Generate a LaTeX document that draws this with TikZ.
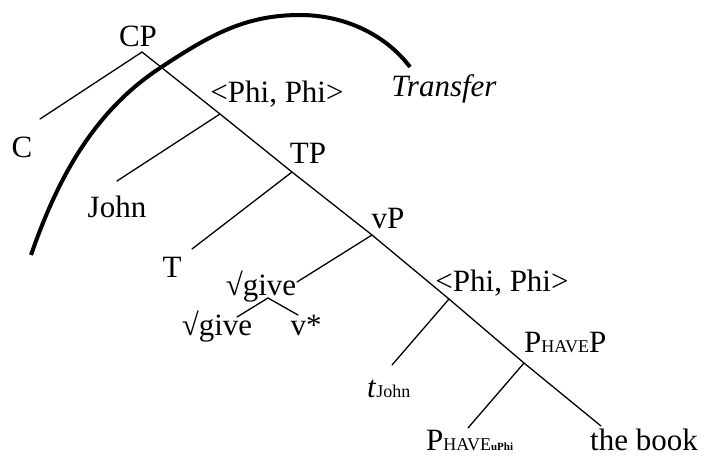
\documentclass[tikz,border=0pt]{standalone}
\usepackage{fontspec}
\setmainfont{Liberation Serif}
\newcommand\mainfs{\fontsize{31}{36}\selectfont}
\newcommand\subfs{\fontsize{18}{20}\selectfont}
\newcommand\tinyfs{\fontsize{11}{12}\selectfont\bfseries}
\begin{document}
\begin{tikzpicture}[x=1pt,y=-1pt,
  lbl/.style={inner sep=0pt,anchor=base,font=\mainfs},
  edge/.style={line width=1.3pt,line cap=round},
  transferarc/.style={line width=4pt,line cap=butt}]
\useasboundingbox (0,0) rectangle (712,464);
% spine junctions
\coordinate (cp) at (142,52);
\coordinate (phi1) at (220,114);
\coordinate (tp) at (292,172);
\coordinate (vp) at (372,235);
\coordinate (phi2) at (449,299);
\coordinate (pp) at (524,363);
\coordinate (bookend) at (601,426);
% branch ends
\coordinate (cend) at (40,119);
\coordinate (johnend) at (117,181);
\coordinate (tend) at (192,249);
\coordinate (giveend) at (297,282);
\coordinate (givefork) at (268,298);
\coordinate (givel) at (237,317);
\coordinate (gitr) at (298,315);
\coordinate (tjend) at (392,365);
\coordinate (phend) at (468,428);
% labels
\node[lbl] (CP) at (138,46) {CP};
\node[lbl] (C) at (22,157) {C};
\node[lbl] (PHI1) at (277,102) {<Phi, Phi>};
\node[lbl,font=\mainfs\itshape] (TR) at (444,96) {Transfer};
\node[lbl] (JOHN) at (117,217) {John};
\node[lbl] (TP) at (308,163) {TP};
\node[lbl] (T) at (172,277) {T};
\node[lbl] (VP) at (388,228) {vP};
\node[lbl] (GIVE1) at (261,295) {√give};
\node[lbl] (GIVE2) at (217,335) {√give};
\node[lbl] (VSTAR) at (306,335) {v*};
\node[lbl] (PHI2) at (502,291) {<Phi, Phi>};
\node[lbl,anchor=base west] (PP) at (524,352) {P{\subfs HAVE}P};
\node[lbl,anchor=base west] (TJ) at (367,397) {\textit{t}{\subfs John}};
\node[lbl,anchor=base west] (PH) at (426,450) {P{\subfs HAVE}{\tinyfs uPhi}};
\node[lbl] (BOOK) at (644,450) {the book};
% tree edges
\draw[edge] (cp) -- (phi1) -- (tp) -- (vp) -- (phi2) -- (pp) -- (bookend);
\draw[edge] (cp) -- (cend);
\draw[edge] (phi1) -- (johnend);
\draw[edge] (tp) -- (tend);
\draw[edge] (vp) -- (giveend);
\draw[edge] (givefork) -- (givel);
\draw[edge] (givefork) -- (gitr);
\draw[edge] (phi2) -- (tjend);
\draw[edge] (pp) -- (phend);
% transfer arc
\coordinate (arcA) at (31,255);
\coordinate (arcM1) at (160,68);
\coordinate (arcTop) at (300,15);
\coordinate (arcB) at (410,67);
\draw[transferarc] (arcA) .. controls (57,180) and (93,112) .. (arcM1)
  .. controls (210,35) and (245,15) .. (arcTop)
  .. controls (345,15) and (386,35) .. (arcB);
\end{tikzpicture}
\end{document}
